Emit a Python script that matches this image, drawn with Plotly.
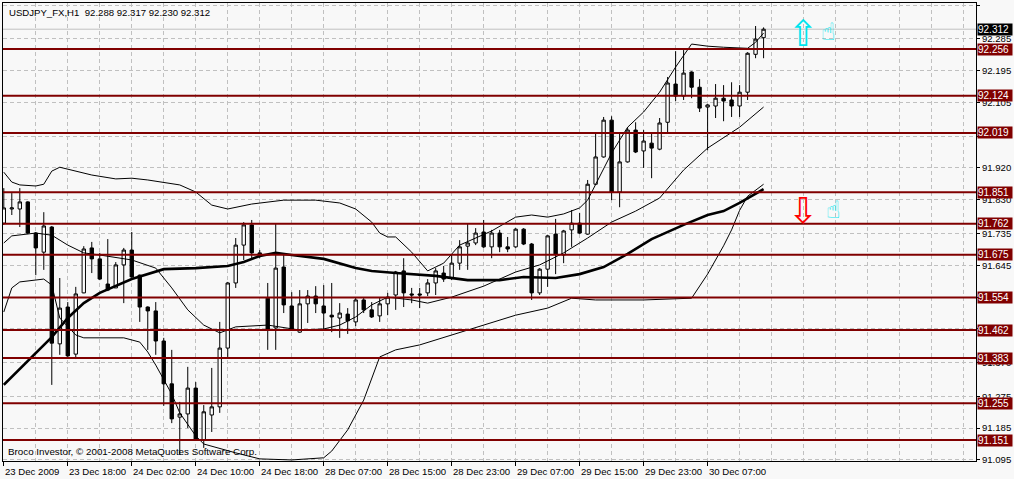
"""
USDJPY H1 chart, MetaTrader style: candles, Bollinger bands, slow MA
and the horizontal support / resistance levels with their price tags.
"""

import plotly.graph_objects as go

TITLE = "USDJPY_FX,H1  92.288 92.317 92.230 92.312"
COPYRIGHT = "Broco Investor, © 2001-2008 MetaQuotes Software Corp."

# OHLC of the 96 hourly bars, oldest first.
opens = [91.764, 91.804, 91.804, 91.824, 91.736, 91.682, 91.753, 91.423, 91.527, 91.394,
         91.567, 91.694, 91.663, 91.592, 91.581, 91.646, 91.688, 91.617, 91.527, 91.516,
         91.431, 91.310, 91.216, 91.225, 91.298, 91.151, 91.222, 91.245, 91.411, 91.595,
         91.702, 91.759, 91.680, 91.552, 91.468, 91.640, 91.530, 91.456, 91.536, 91.558,
         91.530, 91.504, 91.496, 91.507, 91.485, 91.547, 91.519, 91.502, 91.536, 91.561,
         91.629, 91.564, 91.564, 91.567, 91.595, 91.623, 91.609, 91.651, 91.699, 91.708,
         91.739, 91.697, 91.736, 91.697, 91.697, 91.747, 91.705, 91.567, 91.634, 91.733,
         91.674, 91.745, 91.764, 91.733, 91.874, 91.951, 92.055, 91.852, 91.937, 92.027,
         91.968, 91.990, 91.973, 92.049, 92.157, 92.123, 92.191, 92.148, 92.092, 92.095,
         92.117, 92.112, 92.095, 92.134, 92.241, 92.288]
highs = [91.863, 91.849, 91.863, 91.826, 91.739, 91.795, 91.756, 91.609, 91.541, 91.584,
         91.699, 91.711, 91.680, 91.719, 91.654, 91.694, 91.739, 91.619, 91.529, 91.541,
         91.440, 91.406, 91.259, 91.358, 91.315, 91.250, 91.355, 91.485, 91.598, 91.722,
         91.767, 91.773, 91.688, 91.595, 91.764, 91.674, 91.569, 91.575, 91.575, 91.586,
         91.589, 91.595, 91.538, 91.524, 91.555, 91.555, 91.541, 91.555, 91.567, 91.629,
         91.665, 91.581, 91.581, 91.606, 91.637, 91.643, 91.674, 91.716, 91.764, 91.750,
         91.773, 91.745, 91.745, 91.725, 91.750, 91.750, 91.708, 91.637, 91.730, 91.776,
         91.745, 91.801, 91.793, 91.886, 92.021, 92.064, 92.066, 92.021, 92.035, 92.049,
         92.027, 92.021, 92.061, 92.177, 92.250, 92.253, 92.193, 92.171, 92.100, 92.157,
         92.154, 92.162, 92.154, 92.247, 92.321, 92.317]
lows = [91.759, 91.787, 91.753, 91.733, 91.617, 91.632, 91.307, 91.392, 91.386, 91.380,
        91.566, 91.623, 91.603, 91.572, 91.581, 91.538, 91.610, 91.485, 91.406, 91.392,
        91.248, 91.199, 91.109, 91.185, 91.149, 91.129, 91.174, 91.228, 91.386, 91.581,
        91.660, 91.660, 91.665, 91.406, 91.406, 91.510, 91.462, 91.454, 91.482, 91.510,
        91.465, 91.456, 91.440, 91.451, 91.473, 91.510, 91.496, 91.485, 91.504, 91.519,
        91.527, 91.538, 91.524, 91.558, 91.561, 91.598, 91.603, 91.632, 91.632, 91.702,
        91.694, 91.665, 91.682, 91.682, 91.694, 91.702, 91.547, 91.561, 91.584, 91.620,
        91.651, 91.697, 91.733, 91.731, 91.872, 91.949, 91.829, 91.809, 91.935, 91.962,
        91.920, 91.891, 91.970, 92.021, 92.109, 92.112, 92.117, 92.078, 91.970, 92.061,
        92.052, 92.064, 92.064, 92.112, 92.230, 92.230]
closes = [91.807, 91.807, 91.824, 91.736, 91.694, 91.756, 91.425, 91.524, 91.389, 91.564,
          91.691, 91.663, 91.606, 91.575, 91.646, 91.688, 91.612, 91.527, 91.516, 91.431,
          91.310, 91.211, 91.225, 91.298, 91.151, 91.231, 91.245, 91.411, 91.595, 91.702,
          91.759, 91.680, 91.671, 91.462, 91.637, 91.533, 91.465, 91.536, 91.558, 91.536,
          91.510, 91.499, 91.510, 91.488, 91.547, 91.519, 91.499, 91.536, 91.555, 91.626,
          91.567, 91.561, 91.561, 91.595, 91.629, 91.606, 91.651, 91.697, 91.708, 91.736,
          91.697, 91.736, 91.697, 91.691, 91.747, 91.705, 91.567, 91.634, 91.728, 91.677,
          91.742, 91.764, 91.736, 91.874, 91.951, 92.055, 91.852, 91.937, 92.027, 91.965,
          91.996, 91.976, 92.047, 92.160, 92.123, 92.188, 92.148, 92.089, 92.098, 92.117,
          92.109, 92.095, 92.134, 92.244, 92.284, 92.312]

# Indicator lines, sampled at the bar index given in the *_x lists.
upper_x = [0, 1, 2, 4, 5, 6, 7, 9, 11, 14, 16, 18, 22, 24, 26, 28, 31, 35, 39, 42,
           44, 46, 47, 48, 49, 51, 53, 55, 57, 61, 64, 66, 68, 70, 72, 73, 74, 76, 78, 80,
           82, 84, 86, 88, 90, 93, 94, 95]
upper_y = [91.908, 91.880, 91.872, 91.869, 91.874, 91.911, 91.922, 91.911, 91.900, 91.889,
           91.891, 91.886, 91.872, 91.852, 91.815, 91.804, 91.818, 91.829, 91.829, 91.821,
           91.804, 91.767, 91.736, 91.725, 91.725, 91.682, 91.629, 91.651, 91.702, 91.742,
           91.781, 91.787, 91.781, 91.790, 91.807, 91.829, 91.872, 91.962, 92.035, 92.078,
           92.134, 92.205, 92.270, 92.264, 92.261, 92.258, 92.275, 92.301]

mid_x = [0, 1, 4, 6, 8, 10, 12, 16, 19, 21, 23, 25, 27, 29, 33, 37, 40, 42, 44, 46,
         48, 51, 53, 56, 60, 64, 67, 70, 73, 76, 79, 82, 85, 88, 92, 95]
mid_y = [91.708, 91.728, 91.736, 91.730, 91.702, 91.680, 91.674, 91.660, 91.637, 91.581,
         91.519, 91.476, 91.454, 91.471, 91.476, 91.462, 91.465, 91.476, 91.499, 91.533,
         91.555, 91.547, 91.538, 91.555, 91.586, 91.626, 91.646, 91.680, 91.722, 91.767,
         91.798, 91.835, 91.914, 91.976, 92.035, 92.092]

lower_x = [0, 1, 2, 5, 6, 7, 9, 10, 15, 17, 18, 19, 21, 22, 24, 25, 29, 32, 36, 40,
           41, 43, 45, 47, 49, 52, 56, 60, 64, 68, 71, 74, 80, 86, 88, 90, 91, 92, 93, 95]
lower_y = [91.513, 91.581, 91.598, 91.606, 91.589, 91.496, 91.448, 91.440, 91.440, 91.428,
           91.400, 91.363, 91.281, 91.228, 91.163, 91.140, 91.115, 91.098, 91.095, 91.101,
           91.120, 91.180, 91.264, 91.386, 91.406, 91.420, 91.448, 91.476, 91.504, 91.524,
           91.552, 91.547, 91.547, 91.552, 91.620, 91.700, 91.745, 91.800, 91.840, 91.874]

ma_x = [0, 4, 6, 8, 10, 12, 14, 16, 20, 24, 28, 30, 32, 34, 36, 40, 44, 46, 49, 54,
        58, 62, 65, 69, 72, 75, 78, 81, 85, 88, 90, 92, 95]
ma_y = [91.307, 91.397, 91.442, 91.496, 91.538, 91.567, 91.586, 91.606, 91.634, 91.637,
        91.643, 91.654, 91.671, 91.680, 91.674, 91.663, 91.637, 91.629, 91.623, 91.615,
        91.603, 91.603, 91.612, 91.609, 91.620, 91.640, 91.677, 91.719, 91.759, 91.787,
        91.798, 91.821, 91.860]

# Horizontal levels drawn by hand on the chart, plus the current bid.
levels = [92.256, 92.124, 92.019, 91.851, 91.762, 91.675, 91.554, 91.462, 91.383, 91.255, 91.151]
bid = 92.312

# Time scale labels and the bar each one sits on.
time_labels = ["23 Dec 2009", "23 Dec 18:00", "24 Dec 02:00", "24 Dec 10:00",
               "24 Dec 18:00", "28 Dec 07:00", "28 Dec 15:00", "28 Dec 23:00",
               "29 Dec 07:00", "29 Dec 15:00", "29 Dec 23:00", "30 Dec 07:00"]
label_bars = [0, 8, 16, 24, 32, 40, 48, 56, 64, 72, 80, 88]

# Price scale; three of the gridline labels sit fully under level tags.
price_ticks = [92.380, 92.285, 92.195, 92.105, 92.010, 91.920, 91.830, 91.735,
               91.645, 91.555, 91.465, 91.370, 91.275, 91.185, 91.095]
hidden_ticks = [92.010, 91.555, 91.465]

# Arrow / thumb objects placed on the chart (bar index, price).
up_arrow = (99.9, 92.300)
up_thumb = (103.1, 92.303)
down_arrow = (99.9, 91.801)
down_thumb = (103.7, 91.801)

FONT = "Liberation Sans"
MAROON = "#800000"
GRID = "#c0c0c0"
BG = "#f8f8f8"


def build_figure():
    fig = go.Figure()

    fig.add_trace(go.Candlestick(
        x=list(range(len(opens))),
        open=opens, high=highs, low=lows, close=closes,
        increasing=dict(line=dict(color="black", width=1), fillcolor="white"),
        decreasing=dict(line=dict(color="black", width=1), fillcolor="black"),
        whiskerwidth=0,
        showlegend=False,
    ))

    for xs, ys in [(upper_x, upper_y), (mid_x, mid_y), (lower_x, lower_y)]:
        fig.add_trace(go.Scatter(
            x=xs, y=ys, mode="lines",
            line=dict(color="black", width=1),
            showlegend=False, hoverinfo="skip",
        ))

    fig.add_trace(go.Scatter(
        x=ma_x, y=ma_y, mode="lines",
        line=dict(color="black", width=2.6),
        showlegend=False, hoverinfo="skip",
    ))

    # Bid line and its black tag.
    fig.add_shape(type="line", xref="paper", x0=0, x1=1, yref="y", y0=bid, y1=bid,
                  line=dict(color=GRID, width=1), layer="below")
    fig.add_annotation(x=1, xref="paper", y=bid, yref="y", text=f"{bid:.3f}",
                       xanchor="left", xshift=1, showarrow=False, width=34, height=11,
                       borderpad=0, align="left", bgcolor="black",
                       font=dict(family=FONT, size=10, color="white"))

    # Support / resistance levels.
    for lv in levels:
        fig.add_shape(type="line", xref="paper", x0=0, x1=1, yref="y", y0=lv, y1=lv,
                      line=dict(color=MAROON, width=2))
        fig.add_annotation(x=1, xref="paper", y=lv, yref="y", text=f"{lv:.3f}",
                           xanchor="left", xshift=1, showarrow=False, width=34, height=11,
                           borderpad=0, align="left", bgcolor=MAROON,
                           font=dict(family=FONT, size=10, color="white"))

    # Time labels start at their tick, MetaTrader style.
    for bar, lab in zip(label_bars, time_labels):
        fig.add_annotation(x=bar, xref="x", y=0, yref="paper", text=lab,
                           xanchor="left", yanchor="top", xshift=-1, yshift=-3,
                           showarrow=False, font=dict(family=FONT, size=9.6, color="black"))

    # Signal arrows and thumbs.
    fig.add_annotation(x=up_arrow[0], y=up_arrow[1], text="⇧", showarrow=False,
                       font=dict(family="DejaVu Sans", size=36, color="#00e5ee"))
    fig.add_annotation(x=up_thumb[0], y=up_thumb[1], text="☝", showarrow=False,
                       font=dict(family="DejaVu Sans", size=24, color="#00e5ee"))
    fig.add_annotation(x=down_arrow[0], y=down_arrow[1], text="⇩", showarrow=False,
                       font=dict(family="DejaVu Sans", size=36, color="#ff0000"))
    fig.add_annotation(x=down_thumb[0], y=down_thumb[1], text="☝", showarrow=False,
                       font=dict(family="DejaVu Sans", size=24, color="#00e5ee"))

    fig.add_annotation(x=0, xref="paper", y=1, yref="paper", text=TITLE,
                       xanchor="left", yanchor="top", xshift=4, yshift=-2,
                       showarrow=False, font=dict(family=FONT, size=9.6, color="black"))
    fig.add_annotation(x=0, xref="paper", y=0, yref="paper", text=COPYRIGHT,
                       xanchor="left", yanchor="bottom", xshift=3, yshift=2,
                       showarrow=False, font=dict(family=FONT, size=9.8, color="black"))

    fig.update_layout(
        width=1014, height=479,
        margin=dict(l=3, r=38, t=3, b=18),
        paper_bgcolor=BG, plot_bgcolor=BG,
        boxgap=0.4,
        xaxis=dict(
            range=[-0.1, 121.56],
            rangeslider=dict(visible=False),
            tickmode="array", tickvals=label_bars, showticklabels=False,
            ticks="outside", ticklen=4, tickcolor="black",
            showgrid=True, gridcolor=GRID, griddash="4px,3px",
            minor=dict(dtick=4, tick0=0, showgrid=True, gridcolor=GRID,
                       griddash="4px,3px", ticks=""),
            showline=True, linecolor="black", linewidth=1, mirror=True,
            zeroline=False, fixedrange=True,
        ),
        yaxis=dict(
            side="right",
            range=[91.092, 92.386],
            tickmode="array", tickvals=price_ticks,
            ticktext=["" if p in hidden_ticks else f"{p:.3f}" for p in price_ticks],
            tickfont=dict(family=FONT, size=9.6, color="black"),
            ticks="outside", ticklen=3, tickcolor="black",
            showgrid=True, gridcolor=GRID, griddash="4px,3px",
            showline=True, linecolor="black", linewidth=1, mirror=True,
            zeroline=False, automargin=False, fixedrange=True,
        ),
        hovermode=False,
    )
    return fig


def main():
    fig = build_figure()
    # the page body has an 8px default margin; drop it so the chart sits at 0,0
    fig.write_html("out.html", config={"displayModeBar": False},
                   post_script="document.body.style.margin='0';")


if __name__ == "__main__":
    main()
